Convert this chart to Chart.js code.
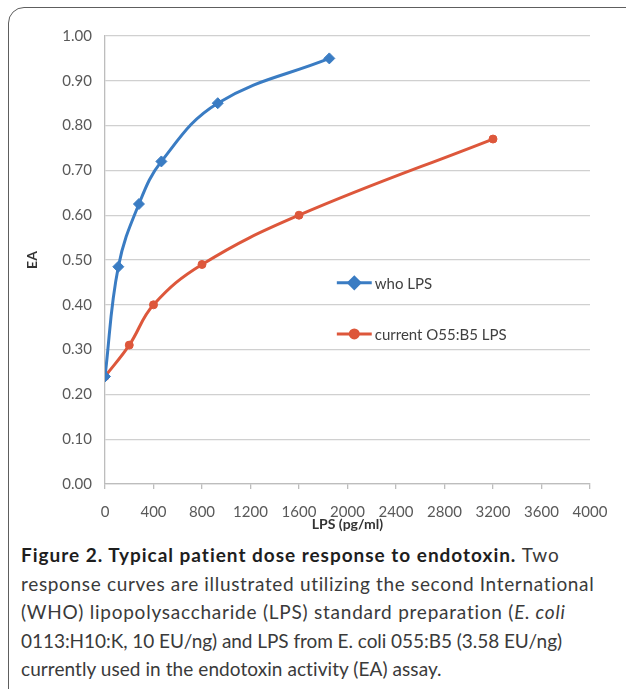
<!DOCTYPE html>
<html><head><meta charset="utf-8">
<script src="https://cdn.jsdelivr.net/npm/chart.js@4.4.0/dist/chart.umd.min.js"></script>
<style>
html,body{margin:0;padding:0;background:#fff;width:626px;height:689px;overflow:hidden;position:relative;}
#card{position:absolute;left:8px;top:7px;width:660px;height:700px;border:1.5px solid #5e5e5e;border-radius:16px;box-sizing:border-box;}
#wrap{position:absolute;left:0;top:0;width:626px;height:540px;}
#cap{position:absolute;left:21px;top:541px;font-family:Lato,"Open Sans",sans-serif;font-size:19px;color:#3a3a3a;line-height:28.5px;}
.ln{white-space:nowrap;display:block;height:28.5px;}
.ln .in{display:inline-block;}
.ln b{color:#1e1e1e;font-weight:700;}
</style></head>
<body>
<div id="card"></div>
<div id="wrap"><canvas id="c" width="626" height="540" style="width:626px;height:540px;"></canvas></div>
<div id="cap">
<div class="ln" data-w="539"><span class="in"><b>Figure 2. Typical patient dose response to endotoxin.</b> Two</span></div>
<div class="ln" data-w="574"><span class="in">response curves are illustrated utilizing the second International</span></div>
<div class="ln" data-w="545"><span class="in">(WHO) lipopolysaccharide (LPS) standard preparation (<i>E. coli</i></span></div>
<div class="ln" data-w="541"><span class="in">0113:H10:K, 10 EU/ng) and LPS from E. coli 055:B5 (3.58 EU/ng)</span></div>
<div class="ln" data-w="421"><span class="in">currently used in the endotoxin activity (EA) assay.</span></div>
</div>
<script>
// ---- data ----
const seriesNames = ['who LPS', 'current O55:B5 LPS'];
const whoX = [0, 110, 280, 465, 930, 1850];
const whoY = [0.24, 0.485, 0.625, 0.72, 0.85, 0.95];
const o55X = [0, 200, 400, 800, 1600, 3200];
const o55Y = [0.24, 0.31, 0.40, 0.49, 0.60, 0.77];
const xTickValues = [0, 400, 800, 1200, 1600, 2000, 2400, 2800, 3200, 3600, 4000];
const yTickValues = [0.00, 0.10, 0.20, 0.30, 0.40, 0.50, 0.60, 0.70, 0.80, 0.90, 1.00];
const xTitle = 'LPS (pg/ml)';
const yTitle = 'EA';

const BLUE = '#3a7cc3', RED = '#dd573b';
const toPts = (xs, ys) => xs.map((x, i) => ({x: x, y: ys[i]}));

const legendPlugin = {
  id: 'innerLegend',
  afterDatasetsDraw(chart) {
    const {ctx, chartArea: a} = chart;
    const w = a.right - a.left, h = a.bottom - a.top;
    const x0 = a.left + 0.478 * w, x1 = a.left + 0.550 * w;
    const rows = [0.551, 0.665];
    ctx.save();
    chart.data.datasets.forEach((ds, i) => {
      const y = a.top + rows[i] * h;
      ctx.strokeStyle = ds.borderColor; ctx.lineWidth = 3;
      ctx.beginPath(); ctx.moveTo(x0, y); ctx.lineTo(x1, y); ctx.stroke();
      Chart.helpers.drawPoint(ctx, {pointStyle: ds.pointStyle, radius: ds.pointRadius, borderWidth: 1}, (x0 + x1) / 2, y);
      ctx.fillStyle = ds.borderColor;
      ctx.beginPath();
      Chart.helpers.drawPoint(ctx, {pointStyle: ds.pointStyle, radius: ds.pointRadius, borderWidth: 0}, (x0 + x1) / 2, y);
      ctx.fill();
      ctx.fillStyle = '#404040';
      ctx.font = '15px Lato';
      ctx.textBaseline = 'middle';
      ctx.textAlign = 'left';
      ctx.fillText(ds.label, x1 + 3, y + 1);
    });
    ctx.restore();
  }
};

new Chart(document.getElementById('c'), {
  type: 'scatter',
  data: {
    datasets: [
      {label: seriesNames[0], data: toPts(whoX, whoY), showLine: true, borderColor: BLUE, backgroundColor: BLUE,
       borderWidth: 3, tension: 0.4, pointStyle: 'rectRot', pointRadius: 5.5, pointBorderWidth: 1, pointBorderColor: BLUE, pointBackgroundColor: BLUE},
      {label: seriesNames[1], data: toPts(o55X, o55Y), showLine: true, borderColor: RED, backgroundColor: RED,
       borderWidth: 3, tension: 0.4, pointStyle: 'circle', pointRadius: 4, pointBorderWidth: 1, pointBorderColor: RED, pointBackgroundColor: RED}
    ]
  },
  options: {
    responsive: false, animation: false, devicePixelRatio: 1,
    layout: {padding: {top: 36, right: 36, left: 0, bottom: 0}},
    plugins: {legend: {display: false}, tooltip: {enabled: false}},
    scales: {
      x: {
        type: 'linear', min: 0, max: 4000,
        afterBuildTicks: s => { s.ticks = xTickValues.map(v => ({value: v})); },
        afterFit: s => { s.height = 56; },
        ticks: {font: {family: 'Lato', size: 15}, color: '#595959', padding: 14, maxRotation: 0, autoSkip: false,
                callback: v => String(v)},
        grid: {drawOnChartArea: false, drawTicks: true, tickLength: 5, color: '#bdbdbd', lineWidth: 1.3},
        border: {color: '#bdbdbd', width: 1.3},
        title: {display: true, text: xTitle, font: {family: 'Lato', size: 14, weight: 'bold'}, color: '#333', padding: {top: 0, bottom: 7.6}}
      },
      y: {
        min: 0, max: 1,
        afterBuildTicks: s => { s.ticks = yTickValues.map(v => ({value: v})); },
        afterFit: s => { s.width = 105; },
        ticks: {font: {family: 'Lato', size: 15}, color: '#595959', padding: 13, callback: v => Number(v).toFixed(2)},
        grid: {color: '#d0d0d0', lineWidth: 1.3, drawTicks: false},
        border: {color: '#bdbdbd', width: 1.3},
        title: {display: true, text: yTitle, font: {family: 'Lato', size: 14, weight: 'bold'}, color: '#333', padding: {top: 24, bottom: 0}}
      }
    }
  },
  plugins: [legendPlugin]
});

// fit caption lines to the reference widths
function fitCaption() {
  document.querySelectorAll('#cap .ln').forEach(ln => {
    const inner = ln.querySelector('.in');
    inner.style.letterSpacing = '0px';
    const w = inner.getBoundingClientRect().width;
    const target = parseFloat(ln.dataset.w);
    const n = inner.textContent.length;
    inner.style.letterSpacing = ((target - w) / n).toFixed(3) + 'px';
  });
}
fitCaption();
if (document.fonts && document.fonts.ready) document.fonts.ready.then(fitCaption);
</script>
</body></html>
